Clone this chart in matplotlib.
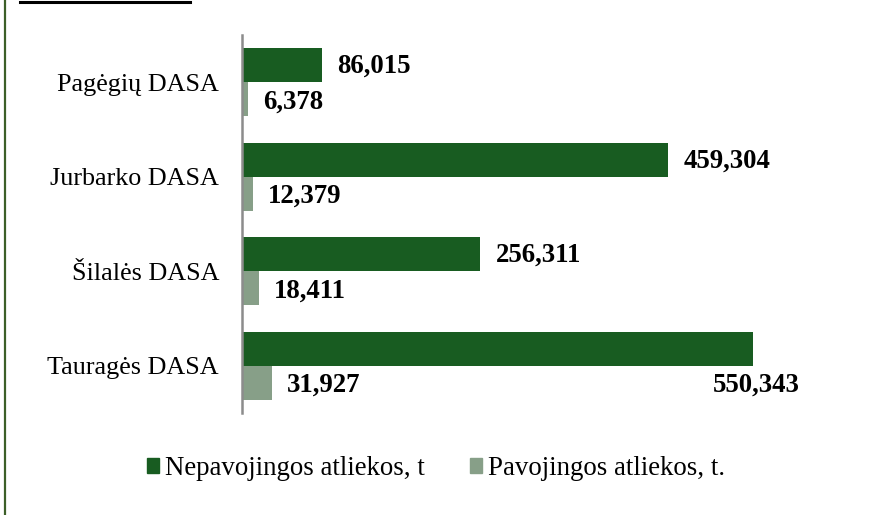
import matplotlib
matplotlib.use("Agg")
import matplotlib.pyplot as plt
import numpy as np
from matplotlib.lines import Line2D
from matplotlib.patches import Patch

# Data (thousand tonnes, as labelled)
categories = ["Pagėgių DASA", "Jurbarko DASA", "Šilalės DASA", "Tauragės DASA"]
nepavojingos = [86.015, 459.304, 256.311, 550.343]
pavojingos = [6.378, 12.379, 18.411, 31.927]
labels_nep = ["86,015", "459,304", "256,311", "550,343"]
labels_pav = ["6,378", "12,379", "18,411", "31,927"]
legend_names = ["Nepavojingos atliekos, t", "Pavojingos atliekos, t."]

dark_green = "#185c21"
light_green = "#879f88"

plt.rcParams['font.family'] = ['Liberation Serif', 'DejaVu Serif']

fig = plt.figure(figsize=(8.72, 5.15), dpi=100)
ax = fig.add_axes([0.2775, 0.198, 0.6385, 0.734])

y = np.arange(len(categories))
h = 0.36
ax.barh(y - h / 2, nepavojingos, height=h, color=dark_green)
ax.barh(y + h / 2, pavojingos, height=h, color=light_green)

ax.set_xlim(0, 600)
ax.set_ylim(len(categories) - 0.5, -0.5)

# value labels
for i, (v, lab) in enumerate(zip(nepavojingos, labels_nep)):
    if i == len(categories) - 1:
        # last label sits under the bar end
        ax.text(v + 4, i + 0.21, lab, ha='center', va='center',
                fontsize=19.3, fontweight='bold')
    else:
        ax.text(v + 17, i - 0.17, lab, ha='left', va='center',
                fontsize=19.3, fontweight='bold')
for i, (v, lab) in enumerate(zip(pavojingos, labels_pav)):
    ax.text(v + 16, i + 0.21, lab, ha='left', va='center',
            fontsize=19.3, fontweight='bold')

ax.set_yticks(y)
ax.set_yticklabels(categories, fontsize=18.8)
ax.tick_params(axis='y', length=0, pad=16.5)
ax.set_xticks([])
for s in ['top', 'right', 'bottom']:
    ax.spines[s].set_visible(False)
ax.spines['left'].set_color('#8c8c8c')
ax.spines['left'].set_linewidth(1.8)

handles = [Patch(color=dark_green), Patch(color=light_green)]
fig.legend(handles, legend_names, loc='center', bbox_to_anchor=(0.5, 0.09),
           ncol=2, frameon=False, fontsize=19.4, handlelength=0.45,
           handleheight=0.45, handletextpad=0.2, columnspacing=1.7)

# frame pieces: left border and cut-off heading underline
fig.add_artist(Line2D([5 / 872, 5 / 872], [0, 1], color='#3c5f28', lw=1.6))
fig.add_artist(Line2D([20 / 872, 190 / 872], [1 - 1.5 / 515, 1 - 1.5 / 515],
                      color='black', lw=2.2))

fig.savefig("out.png", dpi=100)
